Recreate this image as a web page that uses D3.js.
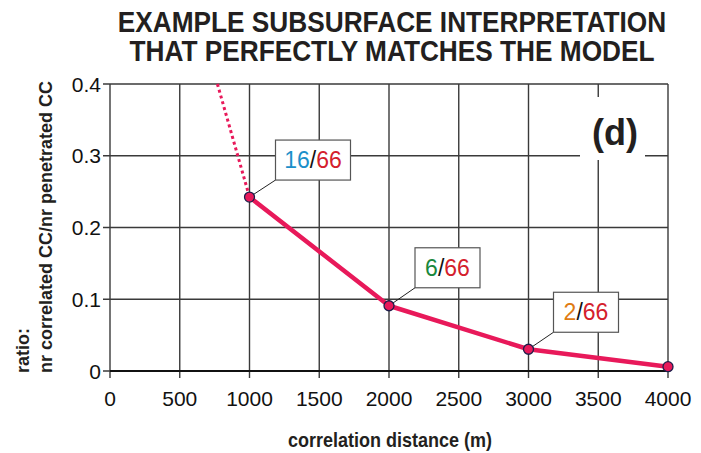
<!DOCTYPE html>
<html>
<head>
<meta charset="utf-8">
<script src="https://cdn.jsdelivr.net/npm/d3@7"></script>
<style>
  html, body { margin: 0; padding: 0; background: #fff; }
  svg { display: block; }
</style>
</head>
<body>
<svg id="chart" width="701" height="453"></svg>
<script>
// Measured ratios: correlated CC over penetrated CC per correlation distance
const distances = [1000, 2000, 3000, 4000];
const ratios = [16 / 66, 6 / 66, 2 / 66, 0.006];
// Dotted extrapolation above the first measured point
const extrapDistances = [770, 1000];
const extrapRatios = [0.4, 16 / 66];
// Labels attached to the first three points
const labelNumerators = ["16", "6", "2"];
const labelDenominator = "66";
const numeratorColors = ["#1b8fc9", "#18883c", "#e07b12"];
const xTicks = [0, 500, 1000, 1500, 2000, 2500, 3000, 3500, 4000];
const yTicks = [0, 0.1, 0.2, 0.3, 0.4];

const svg = d3.select("#chart");
const plotLeft = 110, plotRight = 668, plotTop = 84, plotBottom = 371;
const x = d3.scaleLinear().domain([0, 4000]).range([plotLeft, plotRight]);
const y = d3.scaleLinear().domain([0, 0.4]).range([plotBottom, plotTop]);

const sans = "'Liberation Sans', Arial, Helvetica, sans-serif";

// Title, condensed horizontally
svg.append("g")
  .attr("transform", "translate(392,0) scale(0.905,1)")
  .append("text")
  .attr("text-anchor", "middle")
  .attr("font-family", sans).attr("font-weight", "bold")
  .attr("font-size", 29).attr("fill", "#231f20")
  .selectAll("tspan")
  .data(["EXAMPLE SUBSURFACE INTERPRETATION", "THAT PERFECTLY MATCHES THE MODEL"])
  .join("tspan")
  .attr("x", 0)
  .attr("y", (d, i) => 32 + i * 29.5)
  .text(d => d);

// Grid
const grid = svg.append("g").attr("stroke", "#3a3a3a").attr("stroke-width", 1.4);
grid.selectAll("line.v").data(xTicks).join("line")
  .attr("x1", d => x(d)).attr("x2", d => x(d))
  .attr("y1", plotTop).attr("y2", plotBottom + 7);
grid.selectAll("line.h").data(yTicks).join("line")
  .attr("x1", plotLeft - 7).attr("x2", plotRight)
  .attr("y1", d => y(d)).attr("y2", d => y(d));

// Baseline
svg.append("line")
  .attr("x1", plotLeft).attr("x2", plotRight)
  .attr("y1", y(0)).attr("y2", y(0))
  .attr("stroke", "#111").attr("stroke-width", 2.2);

// Panel tag "(d)" sits on a white patch that hides the grid
svg.append("rect")
  .attr("x", 580).attr("y", 97)
  .attr("width", 65).attr("height", 63)
  .attr("fill", "#fff");
svg.append("text")
  .attr("x", 615).attr("y", 145)
  .attr("text-anchor", "middle")
  .attr("font-family", sans).attr("font-weight", "bold")
  .attr("font-size", 36).attr("fill", "#231f20")
  .text("(d)");

// Axis tick labels
svg.append("g")
  .attr("font-family", sans).attr("font-size", 21).attr("fill", "#111")
  .selectAll("text").data(xTicks).join("text")
  .attr("x", d => x(d)).attr("y", 406)
  .attr("text-anchor", "middle")
  .text(d => d);
svg.append("g")
  .attr("font-family", sans).attr("font-size", 21).attr("fill", "#111")
  .selectAll("text").data(yTicks).join("text")
  .attr("x", plotLeft - 9).attr("y", d => y(d) + 7.5)
  .attr("text-anchor", "end")
  .text(d => d === 0 ? "0" : d3.format(".1f")(d));

// Axis titles
svg.append("g")
  .attr("transform", "translate(390,0) scale(0.9,1)")
  .append("text")
  .attr("x", 0).attr("y", 447).attr("text-anchor", "middle")
  .attr("font-family", sans).attr("font-weight", "bold")
  .attr("font-size", 20).attr("fill", "#231f20")
  .text("correlation distance (m)");
const yTitle = svg.append("g")
  .attr("font-family", sans).attr("font-weight", "bold")
  .attr("font-size", 18).attr("fill", "#231f20");
yTitle.append("text")
  .attr("transform", "translate(29,373) rotate(-90)")
  .text("ratio:");
yTitle.append("text")
  .attr("transform", "translate(52,373) rotate(-90)")
  .text("nr correlated CC/nr penetrated CC");

// Extrapolated segment
const line = d3.line().x(d => x(d[0])).y(d => y(d[1]));
svg.append("path")
  .attr("d", line(d3.zip(extrapDistances, extrapRatios)))
  .attr("fill", "none").attr("stroke", "#e8195a")
  .attr("stroke-width", 3).attr("stroke-dasharray", "3,3");

// Measured curve
svg.append("path")
  .attr("d", line(d3.zip(distances, ratios)))
  .attr("fill", "none").attr("stroke", "#e8195a")
  .attr("stroke-width", 4.5).attr("stroke-linejoin", "round");

// Labels with leader lines
const boxW = [75, 65, 65], boxH = 40;
const offsets = [[26, -17], [26, -18], [25, -17]];
labelNumerators.forEach((num, i) => {
  const px = x(distances[i]), py = y(ratios[i]);
  const bx = px + offsets[i][0], by = py + offsets[i][1];
  svg.append("line")
    .attr("x1", px).attr("y1", py).attr("x2", bx).attr("y2", by)
    .attr("stroke", "#222").attr("stroke-width", 1);
  svg.append("rect")
    .attr("x", bx).attr("y", by - boxH)
    .attr("width", boxW[i]).attr("height", boxH)
    .attr("fill", "#fff").attr("stroke", "#555").attr("stroke-width", 1.2);
  const t = svg.append("text")
    .attr("x", bx + boxW[i] / 2).attr("y", by - 12)
    .attr("text-anchor", "middle")
    .attr("font-family", sans).attr("font-size", 23);
  t.append("tspan").attr("fill", numeratorColors[i]).text(num);
  t.append("tspan").attr("fill", "#111").text("/");
  t.append("tspan").attr("fill", "#d4202c").text(labelDenominator);
});

// Points
svg.append("g").selectAll("circle").data(d3.zip(distances, ratios)).join("circle")
  .attr("cx", d => x(d[0])).attr("cy", d => y(d[1]))
  .attr("r", 5)
  .attr("fill", "#e8195a").attr("stroke", "#1d1d4a").attr("stroke-width", 1.3);
</script>
</body>
</html>
